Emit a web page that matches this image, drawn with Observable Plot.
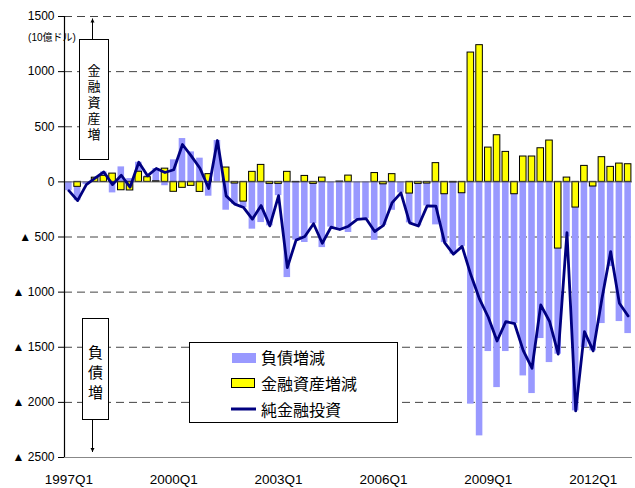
<!DOCTYPE html>
<html>
<head>
<meta charset="utf-8">
<script src="https://cdn.jsdelivr.net/npm/d3@7"></script>
<script src="https://cdn.jsdelivr.net/npm/@observablehq/plot@0.6"></script>
<style>
html, body { margin: 0; padding: 0; background: #fff; }
#chart svg { display: block; }
</style>
</head>
<body>
<div id="chart"></div>
<script>
// ---- data (10億ドル) ----
const quarters = [
  "1997Q1","1997Q2","1997Q3","1997Q4","1998Q1","1998Q2","1998Q3","1998Q4",
  "1999Q1","1999Q2","1999Q3","1999Q4","2000Q1","2000Q2","2000Q3","2000Q4",
  "2001Q1","2001Q2","2001Q3","2001Q4","2002Q1","2002Q2","2002Q3","2002Q4",
  "2003Q1","2003Q2","2003Q3","2003Q4","2004Q1","2004Q2","2004Q3","2004Q4",
  "2005Q1","2005Q2","2005Q3","2005Q4","2006Q1","2006Q2","2006Q3","2006Q4",
  "2007Q1","2007Q2","2007Q3","2007Q4","2008Q1","2008Q2","2008Q3","2008Q4",
  "2009Q1","2009Q2","2009Q3","2009Q4","2010Q1","2010Q2","2010Q3","2010Q4",
  "2011Q1","2011Q2","2011Q3","2011Q4","2012Q1","2012Q2","2012Q3","2012Q4",
  "2013Q1"
];
// 金融資産増減
const assetChange = [
  0, -45, 0, 38, 55, 75, -76, -78,
  92, 42, 5, 120, -90, -54, -36, -91,
  70, 0, 130, -15, -179, 91, 154, -18,
  -18, 91, -3, 54, -18, 39, 0, 3,
  57, 0, 0, 80, -22, 70, 0, -106,
  -18, -15, 170, -112, -5, -103, 1173, 1240,
  311, 423, 272, -112, 230, 230, 305, 375,
  -605, 39, -233, 145, -42, 224, 136, 166,
  160
];
// 負債増減 (increase shown as negative)
const liabilityChange = [
  -80, -125, -25, -5, 35, -100, 136, 30,
  86, 13, 116, -35, 200, 393, 272, 215,
  -130, 375, -257, -187, -54, -429, -369, -381,
  -107, -868, -525, -550, -362, -596, -410, -435,
  -459, -340, -333, -530, -373, -258, -100, -266,
  -382, -203, -390, -439, -651, -482, -2016, -2304,
  -1539, -1866, -1539, -1173, -1760, -1920, -1421, -1639,
  -958, -499, -1844, -1503, -1491, -1285, -768, -1267,
  -1376
];
// 純金融投資
const netInvestment = [
  -80, -170, -25, 33, 90, -25, 60, -48,
  178, 55, 121, 85, 110, 339, 236, 124,
  -60, 375, -127, -202, -233, -338, -215, -399,
  -125, -777, -528, -496, -380, -557, -410, -432,
  -402, -340, -333, -450, -395, -188, -100, -372,
  -400, -218, -220, -551, -656, -585, -843, -1064,
  -1228, -1443, -1267, -1285, -1530, -1690, -1116, -1264,
  -1563, -460, -2077, -1358, -1533, -1061, -632, -1101,
  -1216
];
const yTicks = [1500, 1000, 500, 0, -500, -1000, -1500, -2000, -2500];
const gridValues = [1500, 1000, 500, -500, -1000, -1500, -2000];
const xTickLabels = ["1997Q1", "2000Q1", "2003Q1", "2006Q1", "2009Q1", "2012Q1"];
const seriesNames = { liab: "負債増減", asset: "金融資産増減", net: "純金融投資" };
const seriesColors = { liab: "#9999FF", asset: "#FFFF00", net: "#000080" };

// ---- tables built from the arrays ----
const barRows = [];
quarters.forEach((q, i) => barRows.push({ q, series: "liab", value: liabilityChange[i] }));
quarters.forEach((q, i) => barRows.push({ q, series: "asset", value: assetChange[i] }));
const lineRows = quarters.map((q, i) => ({ q, net: netInvestment[i] }));

const FONT = '"Liberation Sans", Arial, "Noto Sans CJK JP", sans-serif';
const CJK = '"Noto Sans CJK JP", "Liberation Sans", sans-serif';

const chart = Plot.plot({
  width: 635,
  height: 488,
  marginTop: 16,
  marginBottom: 31,
  marginLeft: 64,
  marginRight: 3,
  style: { fontFamily: FONT, background: "#fff", color: "#000", overflow: "visible" },
  x: { type: "band", domain: quarters, paddingInner: 0.25, paddingOuter: 0.125, label: null },
  y: { domain: [-2500, 1500], label: null },
  marks: [
    Plot.ruleY(gridValues, { stroke: "#444", strokeDasharray: "8,5", strokeWidth: 1 }),
    Plot.barY(barRows, {
      x: "q", y: "value", z: "series", order: ["asset", "liab"],
      fill: d => seriesColors[d.series],
      stroke: d => d.series === "asset" ? "#000000" : "none",
      strokeWidth: 1
    }),
    Plot.ruleY([0], { stroke: "#555", strokeWidth: 1 }),
    Plot.ruleY([-2500], { stroke: "#888", strokeWidth: 1.2 }),
    Plot.lineY(lineRows, { x: "q", y: "net", stroke: seriesColors.net, strokeWidth: 2.8, strokeLinejoin: "round" }),
    Plot.axisY({
      ticks: yTicks,
      tickFormat: d => d < 0 ? "▲ " + Math.abs(d) : String(d),
      tickSize: 6, tickPadding: 4, fontSize: 12, label: null
    }),
    Plot.axisX({ ticks: xTickLabels, tickSize: 0, tickPadding: 17, fontSize: 13.5, label: null })
  ]
});

document.getElementById("chart").appendChild(chart);

// ---- overlays: axis line, unit label, annotation boxes, legend ----
const svg = d3.select(chart);
const ys = chart.scale("y");
const yTop = ys.apply(1500), yBot = ys.apply(-2500);

svg.append("line")
  .attr("x1", 64.5).attr("x2", 64.5).attr("y1", yTop).attr("y2", yBot)
  .attr("stroke", "#000").attr("stroke-width", 1.2);

svg.append("text")
  .attr("x", 52).attr("y", 40.5)
  .attr("text-anchor", "middle")
  .attr("font-size", 10).attr("font-family", FONT)
  .text("(10億ドル)");

// vertical (tategaki) label inside a box, drawn as one text element
function vbox(x, y, w, h, label, topY, step, fs) {
  const g = svg.append("g");
  g.append("rect").attr("x", x).attr("y", y).attr("width", w).attr("height", h)
    .attr("fill", "#fff").attr("stroke", "#000").attr("stroke-width", 1);
  g.append("text")
    .attr("x", x + w / 2).attr("y", topY)
    .attr("text-anchor", "start")
    .attr("font-size", fs).attr("font-family", CJK)
    .style("writing-mode", "vertical-rl")
    .style("text-orientation", "upright")
    .style("letter-spacing", (step - fs) + "px")
    .text(label);
}
function arrow(x, y1, y2) {
  svg.append("line").attr("x1", x).attr("x2", x).attr("y1", y1).attr("y2", y2)
    .attr("stroke", "#000").attr("stroke-width", 1);
  const dir = y2 < y1 ? 1 : -1;
  svg.append("path")
    .attr("d", `M${x},${y2} L${x - 2},${y2 + dir * 4} L${x + 2},${y2 + dir * 4} Z`)
    .attr("fill", "#000");
}

arrow(92.5, 39.5, 18.5);
vbox(79.5, 39.5, 29, 120, "金融資産増", 63.5, 16, 13);
arrow(92.5, 419.5, 452);
vbox(82.5, 318.5, 26, 101, "負債増", 344.5, 20, 15);

const lg = svg.append("g");
lg.append("rect").attr("x", 189.5).attr("y", 342.5).attr("width", 208).attr("height", 80)
  .attr("fill", "#fff").attr("stroke", "#000").attr("stroke-width", 1);
lg.append("rect").attr("x", 232).attr("y", 353).attr("width", 24).attr("height", 10)
  .attr("fill", seriesColors.liab);
lg.append("rect").attr("x", 231.5).attr("y", 378.5).attr("width", 23).attr("height", 9)
  .attr("fill", seriesColors.asset).attr("stroke", "#000").attr("stroke-width", 1);
lg.append("line").attr("x1", 231).attr("x2", 256).attr("y1", 409).attr("y2", 409)
  .attr("stroke", seriesColors.net).attr("stroke-width", 3);
[["liab", 358], ["asset", 384], ["net", 410]].forEach(([k, y]) => {
  lg.append("text").attr("x", 261).attr("y", y + 5.8)
    .attr("text-anchor", "start")
    .attr("font-size", 16).attr("font-family", CJK)
    .text(seriesNames[k]);
});
</script>
</body>
</html>
